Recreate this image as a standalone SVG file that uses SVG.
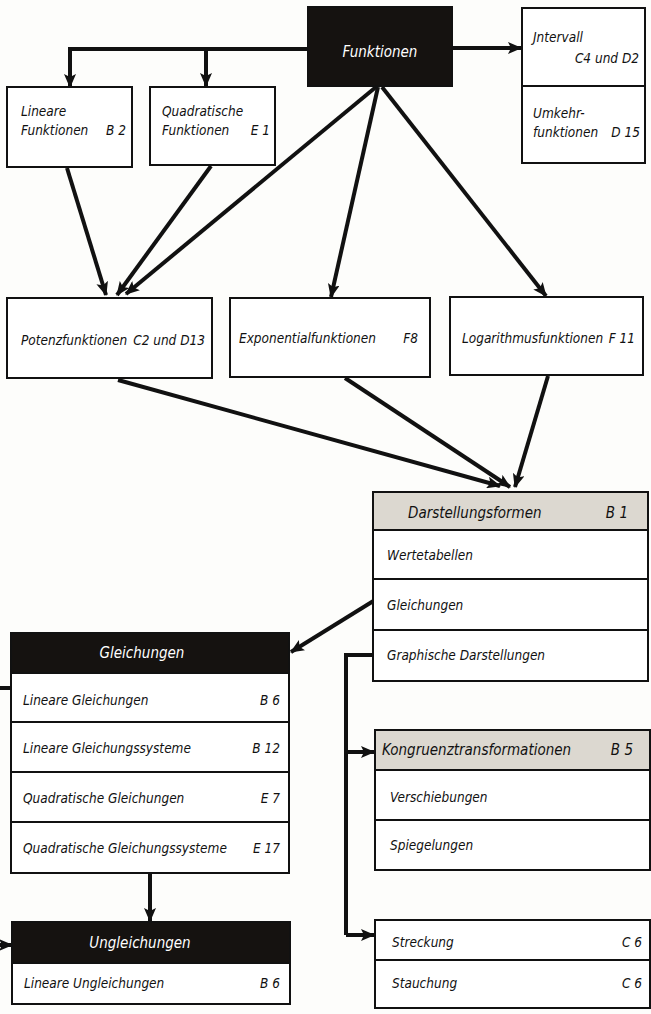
<svg xmlns="http://www.w3.org/2000/svg" width="651" height="1014" viewBox="0 0 651 1014">
  <defs>
    <marker id="arr" viewBox="0 0 14 12" refX="13" refY="6" markerWidth="14" markerHeight="12" markerUnits="userSpaceOnUse" orient="auto">
      <path d="M0,0 L14,6 L0,12 L3,6 Z" fill="#111"/>
    </marker>
  </defs>
  <style>
    .bg { fill: #fdfdfb; }
    .box { fill: #fff; stroke: #111; stroke-width: 2; }
    .dark { fill: #151210; stroke: #111; stroke-width: 2; }
    .grey { fill: #dcd8d0; stroke: #111; stroke-width: 2; }
    .div { stroke: #111; stroke-width: 2; fill: none; }
    .t { font-family: "DejaVu Sans Condensed", "Liberation Sans Narrow", "Liberation Sans", sans-serif; font-style: italic; font-size: 13.5px; fill: #111; }
    .w { fill: #fff; font-size: 15px; }
    .r { text-anchor: end; }
    .m { text-anchor: middle; }
    .c { stroke: #111; stroke-width: 4; fill: none; marker-end: url(#arr); }
    .cn { stroke: #111; stroke-width: 4; fill: none; }
  </style>
  <rect class="bg" x="0" y="0" width="651" height="1014"/>

  <!-- connectors -->
  <g id="connectors">
    <path class="c" d="M308,49 H70 V87"/>
    <path class="c" d="M206,49 V86"/>
    <path class="c" d="M452,48 H521"/>
    <path class="c" d="M67,168 L106,295"/>
    <path class="c" d="M211,166 L117,295"/>
    <path class="c" d="M376,87 L126,294"/>
    <path class="c" d="M378,87 L331,297"/>
    <path class="c" d="M382,87 L546,296"/>
    <path class="c" d="M118,380 L500,486"/>
    <path class="c" d="M345,378 L510,487"/>
    <path class="c" d="M548,376 L515,487"/>
    <path class="c" d="M375,600 L291,652"/>
    <path class="c" d="M150,873 V921"/>
    <path class="cn" d="M11,688 H-4 V945"/>
    <path class="c" d="M-4,945 H12"/>
    <path class="cn" d="M375,655 H346 V935"/>
    <path class="c" d="M346,752 H374"/>
    <path class="c" d="M346,935 H374"/>
  </g>

  <g id="funktionen">
    <rect class="dark" x="308" y="7" width="144" height="79"/>
    <text class="t w m" x="380" y="57">Funktionen</text>
  </g>

  <g id="lineare-funktionen">
    <rect class="box" x="7" y="87" width="125" height="80"/>
    <text class="t" x="21" y="116">Lineare</text>
    <text class="t" x="21" y="135">Funktionen</text>
    <text class="t r" x="126" y="135">B 2</text>
  </g>

  <g id="quadratische-funktionen">
    <rect class="box" x="150" y="87" width="125" height="78"/>
    <text class="t" x="162" y="116">Quadratische</text>
    <text class="t" x="162" y="135">Funktionen</text>
    <text class="t r" x="270" y="135">E 1</text>
  </g>

  <g id="intervall">
    <rect class="box" x="522" y="8" width="123" height="155"/>
    <line class="div" x1="522" y1="86" x2="645" y2="86"/>
    <text class="t" x="533" y="42">Jntervall</text>
    <text class="t r" x="639" y="63">C4 und D2</text>
    <text class="t" x="533" y="118">Umkehr-</text>
    <text class="t" x="533" y="137">funktionen</text>
    <text class="t r" x="640" y="137">D 15</text>
  </g>

  <g id="potenzfunktionen">
    <rect class="box" x="7" y="298" width="205" height="80"/>
    <text class="t" x="21" y="345">Potenzfunktionen</text>
    <text class="t r" x="205" y="345">C2 und D13</text>
  </g>

  <g id="exponentialfunktionen">
    <rect class="box" x="230" y="298" width="200" height="79"/>
    <text class="t" x="239" y="343">Exponentialfunktionen</text>
    <text class="t r" x="418" y="343">F8</text>
  </g>

  <g id="logarithmusfunktionen">
    <rect class="box" x="450" y="297" width="193" height="78"/>
    <text class="t" x="462" y="343">Logarithmusfunktionen</text>
    <text class="t r" x="635" y="343">F 11</text>
  </g>

  <g id="darstellungsformen">
    <rect class="box" x="373" y="492" width="275" height="189"/>
    <rect class="grey" x="373" y="492" width="275" height="38"/>
    <line class="div" x1="373" y1="579" x2="648" y2="579"/>
    <line class="div" x1="373" y1="630" x2="648" y2="630"/>
    <text class="t" x="408" y="518" style="font-size:15px">Darstellungsformen</text>
    <text class="t r" x="628" y="518" style="font-size:15px">B 1</text>
    <text class="t" x="387" y="560">Wertetabellen</text>
    <text class="t" x="387" y="610">Gleichungen</text>
    <text class="t" x="387" y="660">Graphische Darstellungen</text>
  </g>

  <g id="gleichungen">
    <rect class="box" x="11" y="633" width="278" height="240"/>
    <rect class="dark" x="11" y="633" width="278" height="40"/>
    <line class="div" x1="11" y1="722" x2="289" y2="722"/>
    <line class="div" x1="11" y1="772" x2="289" y2="772"/>
    <line class="div" x1="11" y1="822" x2="289" y2="822"/>
    <text class="t w m" x="142" y="658">Gleichungen</text>
    <text class="t" x="23" y="705">Lineare Gleichungen</text>
    <text class="t r" x="280" y="705">B 6</text>
    <text class="t" x="23" y="753">Lineare Gleichungssysteme</text>
    <text class="t r" x="280" y="753">B 12</text>
    <text class="t" x="23" y="803">Quadratische Gleichungen</text>
    <text class="t r" x="280" y="803">E 7</text>
    <text class="t" x="23" y="853">Quadratische Gleichungssysteme</text>
    <text class="t r" x="280" y="853">E 17</text>
  </g>

  <g id="ungleichungen">
    <rect class="box" x="12" y="922" width="278" height="82"/>
    <rect class="dark" x="12" y="922" width="278" height="41"/>
    <text class="t w m" x="140" y="948">Ungleichungen</text>
    <text class="t" x="24" y="988">Lineare Ungleichungen</text>
    <text class="t r" x="280" y="988">B 6</text>
  </g>

  <g id="kongruenztransformationen">
    <rect class="box" x="375" y="730" width="275" height="140"/>
    <rect class="grey" x="375" y="730" width="275" height="40"/>
    <line class="div" x1="375" y1="820" x2="650" y2="820"/>
    <text class="t" x="382" y="755" style="font-size:15px">Kongruenztransformationen</text>
    <text class="t r" x="633" y="755" style="font-size:15px">B 5</text>
    <text class="t" x="390" y="802">Verschiebungen</text>
    <text class="t" x="390" y="850">Spiegelungen</text>
  </g>

  <g id="streckung">
    <rect class="box" x="375" y="920" width="275" height="88"/>
    <line class="div" x1="375" y1="960" x2="650" y2="960"/>
    <text class="t" x="392" y="947">Streckung</text>
    <text class="t r" x="642" y="947">C 6</text>
    <text class="t" x="392" y="988">Stauchung</text>
    <text class="t r" x="642" y="988">C 6</text>
  </g>
</svg>
